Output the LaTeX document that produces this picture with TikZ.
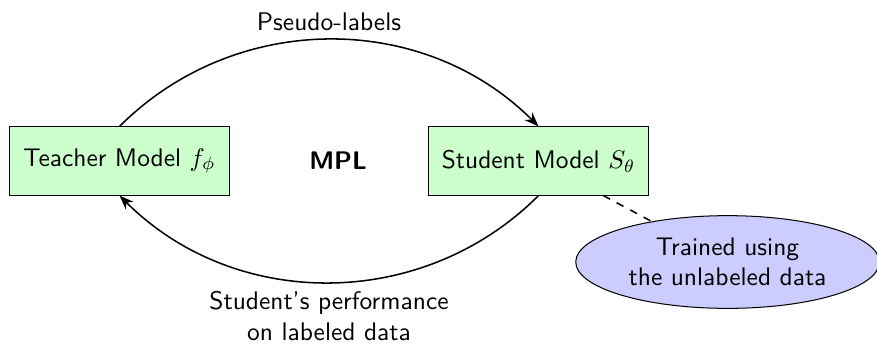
\documentclass[tikz,border=0pt]{standalone}
\usepackage{amsmath, amssymb}
\usepackage{tikz}
\usetikzlibrary{arrows.meta,positioning,shapes.geometric}

\begin{document}
\begin{tikzpicture}[
    >=Stealth,
    every node/.style={font=\sffamily},
    model/.style={rectangle, draw, fill=green!20, minimum width=3.03cm, minimum height=0.94cm},
    note/.style={ellipse, draw, fill=blue!20, minimum width=4.14cm, minimum height=1.28cm, align=center},
    conn/.style={->, thick, line width=0.6pt}
  ]

    % 描画範囲
    \useasboundingbox (0,0) rectangle (12.11,-4.765);

    %=== X(横位置) ===%
    \def\xteach{1.65}
    \def\xstud{7.437}
    \def\ymid{-2.223}

    %=== モデル ===%
    \node[model] (teacher) at (\xteach, \ymid) {Teacher Model $f_\phi$};
    \node[model] (student) at (\xstud,  \ymid) {Student Model $S_\theta$};
    \node[font=\sffamily\bfseries] (mpl) at (4.668, \ymid) {MPL};

    %=== 補足 ===%
    \node[note] (unlab) at (10.047, -3.618) {Trained using\\the unlabeled data};

    %=== 矢印 ===%
    \draw[conn] (teacher.north) to[bend left=45]
      node[above] (pseudo) {Pseudo-labels} (student.north);
    \draw[conn] (student.south) to[bend left=45]
      node[below, align=center] (perf) {Student's performance\\on labeled data} (teacher.south);

    \draw[dashed, line width=0.6pt] (student) -- (unlab);

  \end{tikzpicture}
\end{document}
